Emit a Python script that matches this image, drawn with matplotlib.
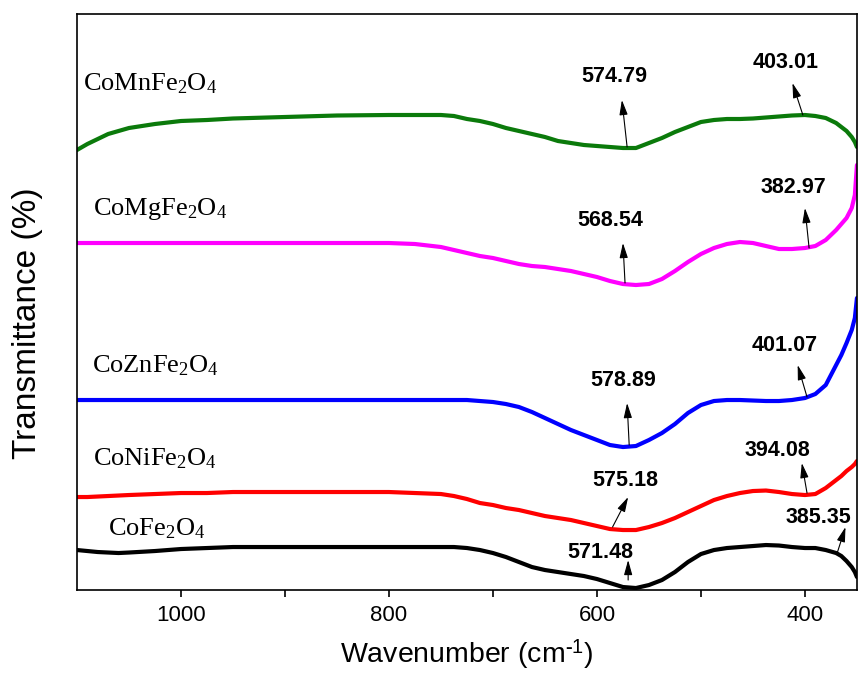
import matplotlib
matplotlib.use("Agg")
import matplotlib.pyplot as plt

plt.rcParams["font.family"] = ["Liberation Sans", "DejaVu Sans"]
plt.rcParams["mathtext.fontset"] = "custom"
plt.rcParams["mathtext.rm"] = "Liberation Serif"
plt.rcParams["mathtext.it"] = "Liberation Serif:italic"

# wavenumber (cm-1) and transmittance (arbitrary, stacked offsets) per sample
wn = [1100, 1090, 1080, 1070, 1060, 1050, 1025, 1000, 975, 950, 900, 850, 800, 775, 750,
      737.5, 725, 712.5, 700, 687.5, 675, 662.5, 650, 637.5, 625,
      612.5, 600, 587.5, 575, 562.5, 550, 537.5, 525, 512.5, 500,
      487.5, 475, 462.5, 450, 437.5, 425, 412.5, 400, 390, 380,
      370, 365, 360, 355, 352, 350]

co_mn = [440, 446, 451, 456, 459, 462, 466, 469, 470, 471.5, 473, 474.5, 475, 475, 475,
         474, 471, 469, 466, 462, 459, 456, 453, 449, 447,
         445, 444, 443, 442, 442, 447, 452, 458, 463, 468,
         470, 471, 471, 471.5, 472.5, 473.5, 474.5, 475, 474, 472,
         467, 463, 459, 453, 448, 443]
co_mg = [347, 347, 347, 347, 347, 347, 347, 347, 347, 347, 347, 347, 347, 346, 343,
         340, 337, 334, 332, 329, 326, 324, 323, 321, 319,
         316, 313, 309, 306, 305, 306, 311, 319, 328, 336,
         342, 346, 348, 347, 344, 341, 341, 342, 344, 350,
         360, 366, 372, 382, 395, 425]
co_zn = [190, 190, 190, 190, 190, 190, 190, 190, 190, 190, 190, 190, 190, 190, 190,
         190, 190, 189, 188, 186, 183, 178, 172, 166, 160,
         155, 150, 145, 143, 144, 150, 157, 166, 177, 185,
         189, 190, 190, 189.5, 189, 189, 190, 192, 196, 205,
         225, 235, 247, 260, 272, 292]
co_ni = [93, 93, 93.5, 94, 94.5, 95, 96, 97, 97, 98, 98, 98, 98, 97, 96,
         94, 91, 87, 85, 82, 80, 77, 74, 72, 70,
         67, 64, 61, 60, 60, 63, 67, 72, 78, 84,
         90, 94, 97, 99, 99.5, 98, 96, 95, 96, 102,
         110, 114, 119, 123, 126, 129]
co_fe = [40, 39, 38, 37.5, 37, 37.5, 39, 41, 42, 43, 43, 43, 43, 43, 43,
         43, 42, 40, 37, 33, 28, 23, 20, 18, 16,
         14, 11, 7, 3, 2, 5, 10, 18, 28, 36,
         40, 42, 43, 44, 45, 44.5, 43, 42, 42, 40,
         37, 34, 29, 23, 18, 13]

series = [co_mn, co_mg, co_zn, co_ni, co_fe]
colors = ["#0b7a0b", "#ff00ff", "#0000ff", "#ff0000", "#000000"]
names = [r"CoMnFe$_{2}$O$_{4}$", r"CoMgFe$_{2}$O$_{4}$", r"CoZnFe$_{2}$O$_{4}$",
         r"CoNiFe$_{2}$O$_{4}$", r"CoFe$_{2}$O$_{4}$"]
name_pos = [(1094, 500), (1085, 375), (1086, 218), (1085, 125), (1070, 55)]

# peak labels: text, text position, arrow tail (on curve), arrow head
peaks = ["574.79", "403.01", "568.54", "382.97", "578.89", "401.07",
         "394.08", "575.18", "385.35", "571.48"]
peak_text = [(583, 513), (419, 527), (587, 370), (411, 403), (575, 210),
             (419, 245), (426, 140), (573, 110), (387, 73), (597, 38)]
peak_tail = [(571, 443), (402, 475), (573, 307), (396, 342), (569, 145),
             (398, 193), (398, 97), (585, 63), (369, 37), (570, 10)]
peak_head = [(576, 490), (412, 507), (575, 347), (400, 382), (571, 187),
             (407, 225), (403, 127), (570, 93), (361, 63), (570, 30)]

fig = plt.figure(figsize=(8.59, 6.86), dpi=100)
ax = fig.add_axes([0.0896, 0.1399, 0.908, 0.8397])

for y, c in zip(series, colors):
    ax.plot(wn, y, color=c, lw=3.0, solid_capstyle="round", solid_joinstyle="round")

for n, (x, y) in zip(names, name_pos):
    ax.text(x, y, n, fontsize=19, family="Liberation Serif", ha="left", va="baseline")

for t, tp, tl, hd in zip(peaks, peak_text, peak_tail, peak_head):
    ax.text(tp[0], tp[1], t, fontsize=15.5, fontweight="bold", ha="center", va="center")
    ax.annotate("", xy=hd, xytext=tl,
                arrowprops=dict(arrowstyle="-|>,head_length=0.9,head_width=0.25",
                                color="black", lw=0.8, shrinkA=0, shrinkB=0))

ax.set_xlim(1100, 350)
ax.set_ylim(0, 576)
ax.set_xticks([1000, 800, 600, 400])
ax.set_xticks([900, 700, 500], minor=True)
ax.set_yticks([])
ax.tick_params(axis="x", which="both", direction="out", length=5, width=1.2,
               labelsize=16, pad=6)
for s in ax.spines.values():
    s.set_linewidth(1.2)

ax.set_xlabel(r"Wavenumber (cm$^{\text{-}\mathregular{1}}$)", fontsize=20.5, labelpad=8)
ax.set_ylabel("Transmittance (%)", fontsize=24, ha="center", va="center")
ax.yaxis.set_label_coords(-0.063, 0.464)

fig.savefig("out.png", dpi=100)
